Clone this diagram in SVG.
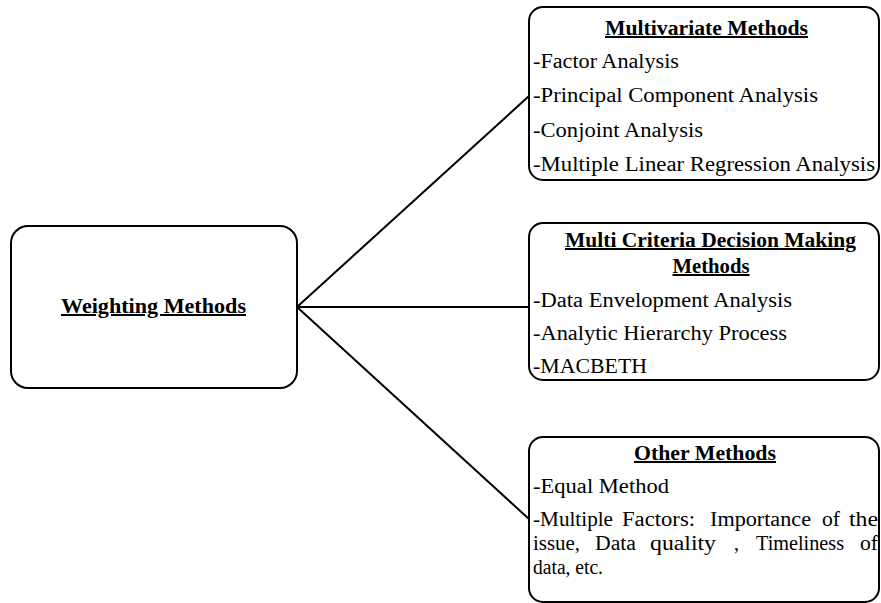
<svg xmlns="http://www.w3.org/2000/svg" width="881" height="603" viewBox="0 0 881 603">
<style>
.box{fill:#fff;stroke:#000;stroke-width:2}
.t{font-family:"Liberation Serif","Times New Roman",serif;font-size:20px;fill:#000}
.h{font-weight:bold;text-decoration:underline}
.c{text-anchor:middle}
.conn line{stroke:#000;stroke-width:2;stroke-linecap:round}
</style>
<rect width="881" height="603" fill="#fff"/>
<g class="conn" id="connectors">
<line x1="297" y1="307" x2="529" y2="96"/>
<line x1="297" y1="307" x2="529" y2="307"/>
<line x1="297" y1="307" x2="529" y2="519"/>
</g>
<g id="weighting">
<rect class="box" x="11" y="226" width="286" height="162" rx="17"/>
<text class="t h c" x="153.5" y="313" textLength="185" lengthAdjust="spacingAndGlyphs">Weighting Methods</text>
</g>
<g id="multivariate">
<rect class="box" x="529" y="7" width="350" height="173" rx="14"/>
<text class="t h c" x="706.5" y="35" textLength="203" lengthAdjust="spacingAndGlyphs">Multivariate Methods</text>
<text class="t" x="533" y="68" textLength="146" lengthAdjust="spacingAndGlyphs">-Factor Analysis</text>
<text class="t" x="533" y="102" textLength="285" lengthAdjust="spacingAndGlyphs">-Principal Component Analysis</text>
<text class="t" x="533" y="137" textLength="170" lengthAdjust="spacingAndGlyphs">-Conjoint Analysis</text>
<text class="t" x="533" y="171" textLength="342" lengthAdjust="spacingAndGlyphs">-Multiple Linear Regression Analysis</text>
</g>
<g id="mcdm">
<rect class="box" x="529" y="223" width="350" height="157" rx="14"/>
<text class="t h c" x="710.5" y="247" textLength="291" lengthAdjust="spacingAndGlyphs">Multi Criteria Decision Making</text>
<text class="t h c" x="711" y="273" textLength="77" lengthAdjust="spacingAndGlyphs">Methods</text>
<text class="t" x="533" y="307" textLength="259" lengthAdjust="spacingAndGlyphs">-Data Envelopment Analysis</text>
<text class="t" x="533" y="340" textLength="254" lengthAdjust="spacingAndGlyphs">-Analytic Hierarchy Process</text>
<text class="t" x="533" y="373" textLength="114" lengthAdjust="spacingAndGlyphs">-MACBETH</text>
</g>
<g id="other">
<rect class="box" x="529" y="437" width="350" height="165" rx="14"/>
<text class="t h c" x="705" y="460" textLength="142" lengthAdjust="spacingAndGlyphs">Other Methods</text>
<text class="t" x="533" y="493" textLength="136" lengthAdjust="spacingAndGlyphs">-Equal Method</text>
<text class="t" y="526"><tspan x="533" textLength="80" lengthAdjust="spacingAndGlyphs">-Multiple</tspan> <tspan x="622" textLength="73" lengthAdjust="spacingAndGlyphs">Factors:</tspan> <tspan x="710" textLength="101" lengthAdjust="spacingAndGlyphs">Importance</tspan> <tspan x="822" textLength="18" lengthAdjust="spacingAndGlyphs">of</tspan> <tspan x="849" textLength="29" lengthAdjust="spacingAndGlyphs">the</tspan></text>
<text class="t" y="550"><tspan x="533" textLength="47" lengthAdjust="spacingAndGlyphs">issue,</tspan> <tspan x="595" textLength="41" lengthAdjust="spacingAndGlyphs">Data</tspan> <tspan x="650" textLength="66" lengthAdjust="spacingAndGlyphs">quality</tspan> <tspan x="734" textLength="5" lengthAdjust="spacingAndGlyphs">,</tspan> <tspan x="756" textLength="88" lengthAdjust="spacingAndGlyphs">Timeliness</tspan> <tspan x="860" textLength="18" lengthAdjust="spacingAndGlyphs">of</tspan></text>
<text class="t" x="533" y="574" textLength="70" lengthAdjust="spacingAndGlyphs">data, etc.</text>
</g>
</svg>
